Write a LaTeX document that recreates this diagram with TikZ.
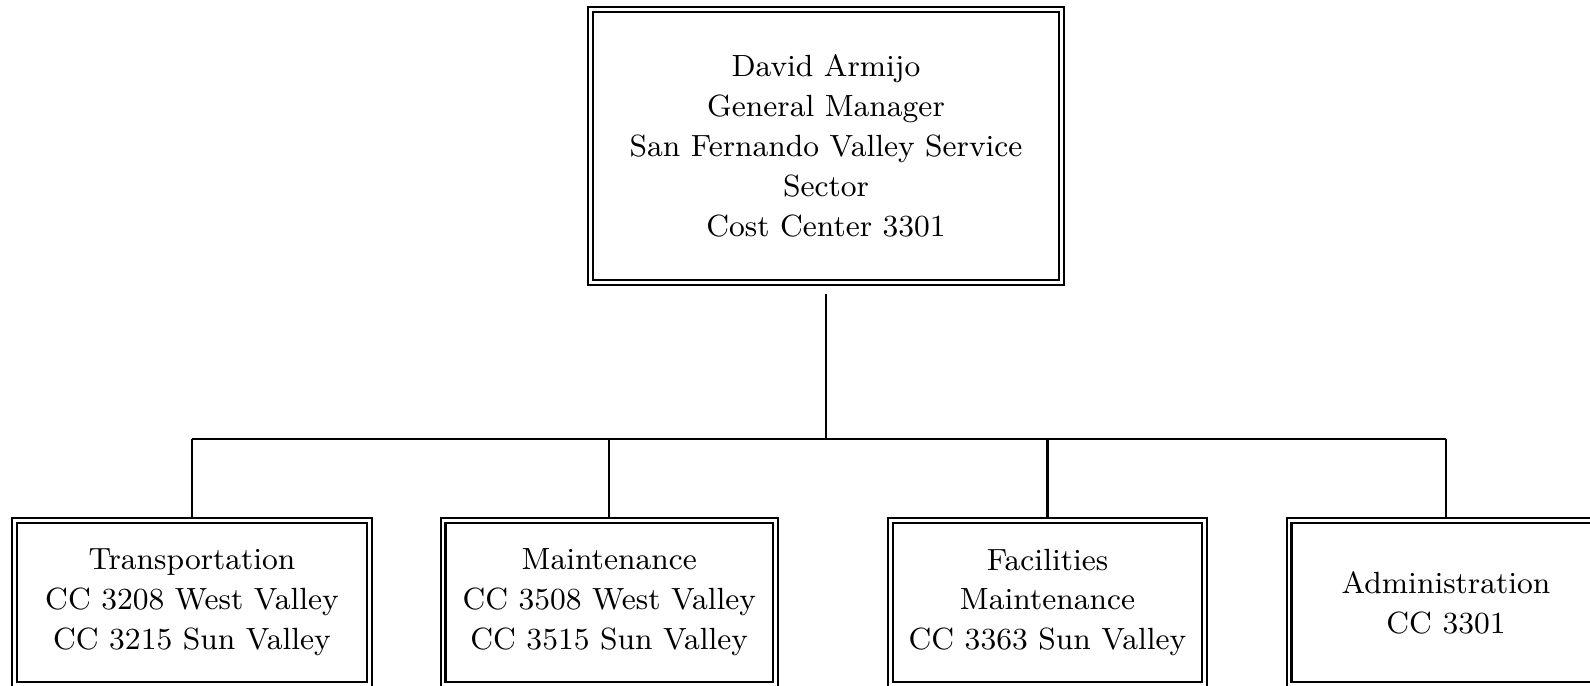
\documentclass[tikz,border=0pt]{standalone}
\usepackage{tikz}
\begin{document}
\begin{tikzpicture}[x=0.3pt,y=-0.3pt,
		unitbox/.style={draw,line width=0.65pt,double,double distance=0.8pt,align=center,inner sep=0pt,font=\fontsize{9.2}{12}\selectfont},
		link/.style={line width=0.65pt}]
		
		\useasboundingbox (0,0) rectangle (1590,686);
		
		\node[unitbox,minimum width=141.3pt,minimum height=81.9pt] (gm) at (826,146) {David Armijo\\General Manager\\San Fernando Valley Service\\Sector\\Cost Center 3301};
		
		\node[unitbox,minimum width=106.5pt,minimum height=49.2pt] (trans) at (192,602.5) {Transportation\\CC 3208 West Valley\\CC 3215 Sun Valley};
		\node[unitbox,minimum width=99.75pt,minimum height=49.2pt] (maint) at (609.25,602.5) {Maintenance\\CC 3508 West Valley\\CC 3515 Sun Valley};
		\node[unitbox,minimum width=94.2pt,minimum height=49.2pt] (facil) at (1047.5,602.5) {Facilities\\Maintenance\\CC 3363 Sun Valley};
		\node[unitbox,minimum width=94.2pt,minimum height=49.2pt] (admin) at (1446,602.5) {Administration\\CC 3301};
		
		\coordinate (bar) at (826,439);
		\draw[link,shorten <=3.2pt] (gm.south) -- (bar);
		\draw[link] (bar -| trans) -- (bar -| admin);
		\foreach \u in {trans,maint,facil,admin}
		\draw[link] (bar -| \u) -- (\u.north);
		
		\end{tikzpicture}
\end{document}
